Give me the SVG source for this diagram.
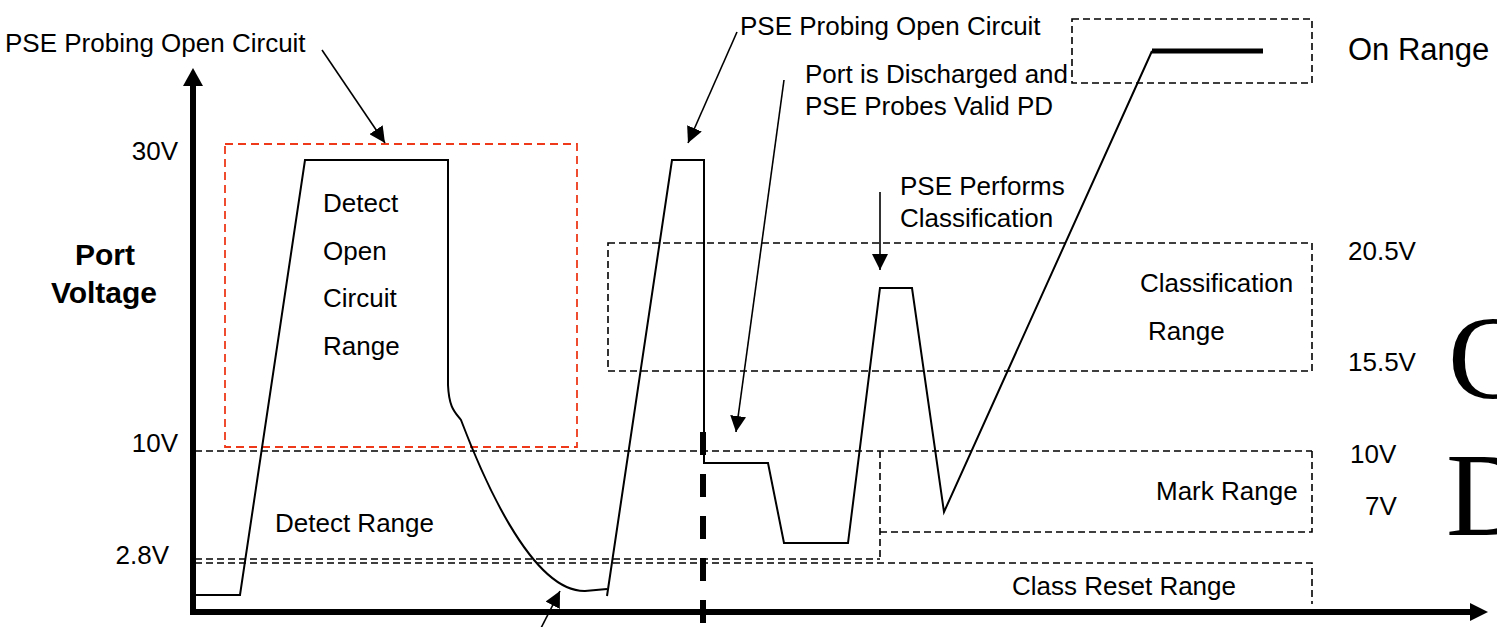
<svg xmlns="http://www.w3.org/2000/svg" width="1497" height="627" viewBox="0 0 1497 627">
<style>
text{font-family:"Liberation Sans",Arial,sans-serif;font-size:26px;fill:#000}
.bold{font-weight:bold;font-size:30px}
.serif{font-family:"Liberation Serif","Times New Roman",serif;font-size:118px}
.dash{fill:none;stroke:#000;stroke-width:1.6;stroke-dasharray:7,4}
.red{fill:none;stroke:#ee3a1a;stroke-width:1.8;stroke-dasharray:8,5}
.trace{fill:none;stroke:#000;stroke-width:2}
.conn{fill:none;stroke:#000;stroke-width:1.6;marker-end:url(#ah)}
</style>
<defs>
<marker id="ah" markerUnits="userSpaceOnUse" markerWidth="16" markerHeight="16" viewBox="0 0 16 16" refX="16" refY="8" orient="auto">
<path d="M0,0 L16,8 L0,16 z" fill="#000"/>
</marker>
</defs>
<rect width="1497" height="627" fill="#fff"/>

<g id="axes">
<line x1="193" y1="615" x2="193" y2="84" stroke="#000" stroke-width="6"/>
<polygon points="183,86 193,68 203,86" fill="#000"/>
<line x1="190" y1="612" x2="1472" y2="612" stroke="#000" stroke-width="6"/>
<polygon points="1470,603 1488,612 1470,621" fill="#000"/>
</g>

<g id="ranges">
<rect id="open-circuit-range" class="red" x="225" y="144" width="352" height="303"/>
<rect id="on-range" class="dash" x="1072" y="19" width="240" height="64"/>
<rect id="classification-range" class="dash" x="608" y="243" width="704" height="128"/>
<g id="mark-range">
<line class="dash" x1="195" y1="451" x2="1312" y2="451"/>
<path class="dash" d="M880,451 L880,559"/>
<path class="dash" d="M1312,451 L1312,532 L880,532"/>
</g>
<g id="detect-range">
<line class="dash" x1="195" y1="559" x2="880" y2="559"/>
</g>
<g id="class-reset-range">
<path class="dash" d="M195,563 L1312,563 L1312,604"/>
</g>
</g>

<g id="waveform">
<path class="trace" d="M195,595 L240,595 L305,160 L448,160 L448,385 C449,408 455,412 461,420 C480,470 530,592 585,591 L607,589"/>
<path class="trace" d="M607,596 L672,160 L704,160 L704,463 L768,463 L784,543 L848,543 L880,288 L912,288 L944,512 L1152,51"/>
<line x1="1152" y1="51" x2="1263" y2="51" stroke="#000" stroke-width="5"/>
<line x1="703" y1="432" x2="703" y2="627" stroke="#000" stroke-width="6" stroke-dasharray="23,19"/>
</g>

<g id="connectors">
<line class="conn" x1="322" y1="50" x2="385" y2="143"/>
<line class="conn" x1="737" y1="32" x2="688" y2="143"/>
<line class="conn" x1="784" y1="80" x2="736" y2="432"/>
<line class="conn" x1="880" y1="192" x2="880" y2="270"/>
<line class="conn" x1="540" y1="630" x2="560" y2="591"/>
</g>

<g id="labels">
<text x="5" y="52">PSE Probing Open Circuit</text>
<text x="740" y="35">PSE Probing Open Circuit</text>
<text x="805" y="83">Port is Discharged and</text>
<text x="805" y="115">PSE Probes Valid PD</text>
<text x="900" y="195">PSE Performs</text>
<text x="900" y="227">Classification</text>
<text x="1348" y="60" style="font-size:31px">On Range</text>
<text x="323" y="212">Detect</text>
<text x="323" y="260">Open</text>
<text x="323" y="307">Circuit</text>
<text x="323" y="355">Range</text>
<text x="275" y="532">Detect Range</text>
<text x="1140" y="292">Classification</text>
<text x="1148" y="340">Range</text>
<text x="1156" y="500">Mark Range</text>
<text x="1012" y="595">Class Reset Range</text>
<text x="1348" y="260">20.5V</text>
<text x="1348" y="371">15.5V</text>
<text x="1350" y="463">10V</text>
<text x="1365" y="515">7V</text>
<text x="178" y="160" text-anchor="end">30V</text>
<text x="178" y="452" text-anchor="end">10V</text>
<text x="169" y="564" text-anchor="end">2.8V</text>
<text class="bold" x="105" y="265" text-anchor="middle">Port</text>
<text class="bold" x="104" y="303" text-anchor="middle">Voltage</text>
<text class="serif" x="1448" y="398">C</text>
<text class="serif" x="1446" y="535">D</text>
</g>
</svg>
